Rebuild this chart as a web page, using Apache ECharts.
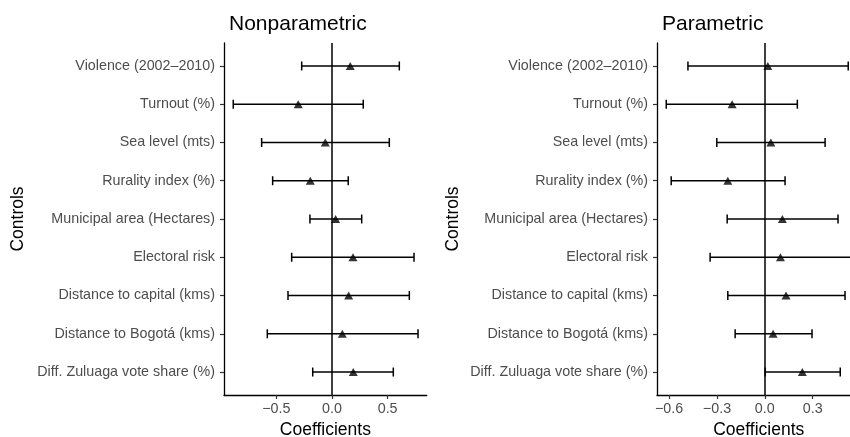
<!DOCTYPE html>
<html>
<head>
<meta charset="utf-8">
<script src="https://cdn.jsdelivr.net/npm/echarts@6/dist/echarts.min.js"></script>
<style>
  html, body { margin: 0; padding: 0; background: #fff; }
  #chart { width: 850px; height: 437px; }
</style>
</head>
<body>
<div id="chart"></div>
<script>
// ── DATA ───────────────────────────────────────────
const categories = [
  'Violence (2002–2010)', 'Turnout (%)', 'Sea level (mts)', 'Rurality index (%)',
  'Municipal area (Hectares)', 'Electoral risk', 'Distance to capital (kms)',
  'Distance to Bogotá (kms)', 'Diff. Zuluaga vote share (%)'
];
const panelTitles = ['Nonparametric', 'Parametric'];

// nonparametric
const npEst = [0.164, -0.303, -0.060, -0.195, 0.033, 0.189, 0.150, 0.093, 0.191];
const npLo  = [-0.272, -0.887, -0.632, -0.533, -0.198, -0.362, -0.395, -0.581, -0.173];
const npHi  = [0.605, 0.281, 0.515, 0.146, 0.267, 0.737, 0.695, 0.773, 0.551];

// parametric
const pEst = [0.019, -0.205, 0.038, -0.232, 0.110, 0.098, 0.133, 0.052, 0.235];
const pLo  = [-0.482, -0.618, -0.301, -0.587, -0.236, -0.343, -0.232, -0.186, 0.002];
const pHi  = [0.523, 0.204, 0.378, 0.127, 0.459, 0.542, 0.503, 0.296, 0.473];

const npTicks = [-0.5, 0, 0.5];
const pTicks  = [-0.6, -0.3, 0, 0.3];

// ── HELPERS ────────────────────────────────────────
const FONT = '"Liberation Sans", Arial, sans-serif';
const idx = categories.map((_, i) => i);
const minus = v => String(v).replace('-', '−');

function xAxisFor(gi, min, max, ticks) {
  return {
    type: 'value', gridIndex: gi, min, max,
    name: 'Coefficients', nameLocation: 'middle', nameGap: 24,
    nameTextStyle: { color: '#000', fontSize: 17.5, fontFamily: FONT },
    axisLine: { show: true, onZero: false, lineStyle: { color: '#000', width: 1.3 } },
    axisTick: { show: true, length: 4, customValues: ticks, lineStyle: { color: '#333', width: 1.2 } },
    axisLabel: {
      customValues: ticks, margin: 7, color: '#4d4d4d', fontSize: 14.3, fontFamily: FONT,
      formatter: v => minus(Math.abs(v) < 1e-9 ? '0.0' : v.toFixed(1))
    },
    splitLine: { show: false }
  };
}

function yAxisFor(gi, gap) {
  return {
    type: 'value', gridIndex: gi, min: -0.6, max: 8.6, inverse: true,
    name: 'Controls', nameLocation: 'middle', nameGap: gap, nameRotate: 90,
    nameTextStyle: { color: '#000', fontSize: 17.5, fontFamily: FONT },
    axisLine: { show: true, onZero: false, lineStyle: { color: '#000', width: 1.3 } },
    axisTick: { show: true, length: 4, customValues: idx, lineStyle: { color: '#333', width: 1.2 } },
    axisLabel: {
      customValues: idx, margin: 9, color: '#4d4d4d', fontSize: 14.3, fontFamily: FONT,
      formatter: v => categories[Math.round(v)]
    },
    splitLine: { show: false }
  };
}

function barSeries(gi, lo, hi) {
  return {
    type: 'custom', xAxisIndex: gi, yAxisIndex: gi, silent: true,
    data: idx.map(i => [lo[i], hi[i], i]),
    renderItem: (params, api) => {
      const a = api.coord([api.value(0), api.value(2)]);
      const b = api.coord([api.value(1), api.value(2)]);
      const h = 4.5;
      const st = { stroke: '#000', lineWidth: 1.5 };
      return {
        type: 'group',
        children: [
          { type: 'line', shape: { x1: a[0], y1: a[1], x2: b[0], y2: b[1] }, style: st },
          { type: 'line', shape: { x1: a[0], y1: a[1] - h, x2: a[0], y2: a[1] + h }, style: st },
          { type: 'line', shape: { x1: b[0], y1: b[1] - h, x2: b[0], y2: b[1] + h }, style: st }
        ]
      };
    }
  };
}

function pointSeries(gi, est) {
  return {
    type: 'scatter', xAxisIndex: gi, yAxisIndex: gi, silent: true,
    symbol: 'triangle', symbolSize: [9, 8],
    itemStyle: { color: '#000' },
    data: idx.map(i => [est[i], i]),
    markLine: {
      silent: true, symbol: 'none', label: { show: false },
      lineStyle: { color: '#000', width: 1.5, type: 'solid' },
      data: [{ xAxis: 0 }]
    },
    z: 3
  };
}

// ── CHART ──────────────────────────────────────────
const chart = echarts.init(document.getElementById('chart'));
chart.setOption({
  animation: false,
  backgroundColor: '#fff',
  title: [
    { text: panelTitles[0], left: 224, top: 9, textStyle: { color: '#000', fontSize: 21, fontWeight: 'normal', fontFamily: FONT } },
    { text: panelTitles[1], left: 657, top: 9, textStyle: { color: '#000', fontSize: 21, fontWeight: 'normal', fontFamily: FONT } }
  ],
  grid: [
    { left: 224, right: 423.3, top: 43, bottom: 42, containLabel: false, outerBoundsMode: 'none' },
    { left: 657, right: -10.5, top: 43, bottom: 42, containLabel: false, outerBoundsMode: 'none' }
  ],
  xAxis: [xAxisFor(0, -0.97, 0.851, npTicks), xAxisFor(1, -0.676, 0.6, pTicks)],
  yAxis: [yAxisFor(0, 197), yAxisFor(1, 195)],
  series: [
    barSeries(0, npLo, npHi), pointSeries(0, npEst),
    barSeries(1, pLo, pHi), pointSeries(1, pEst)
  ]
});
</script>
</body>
</html>
